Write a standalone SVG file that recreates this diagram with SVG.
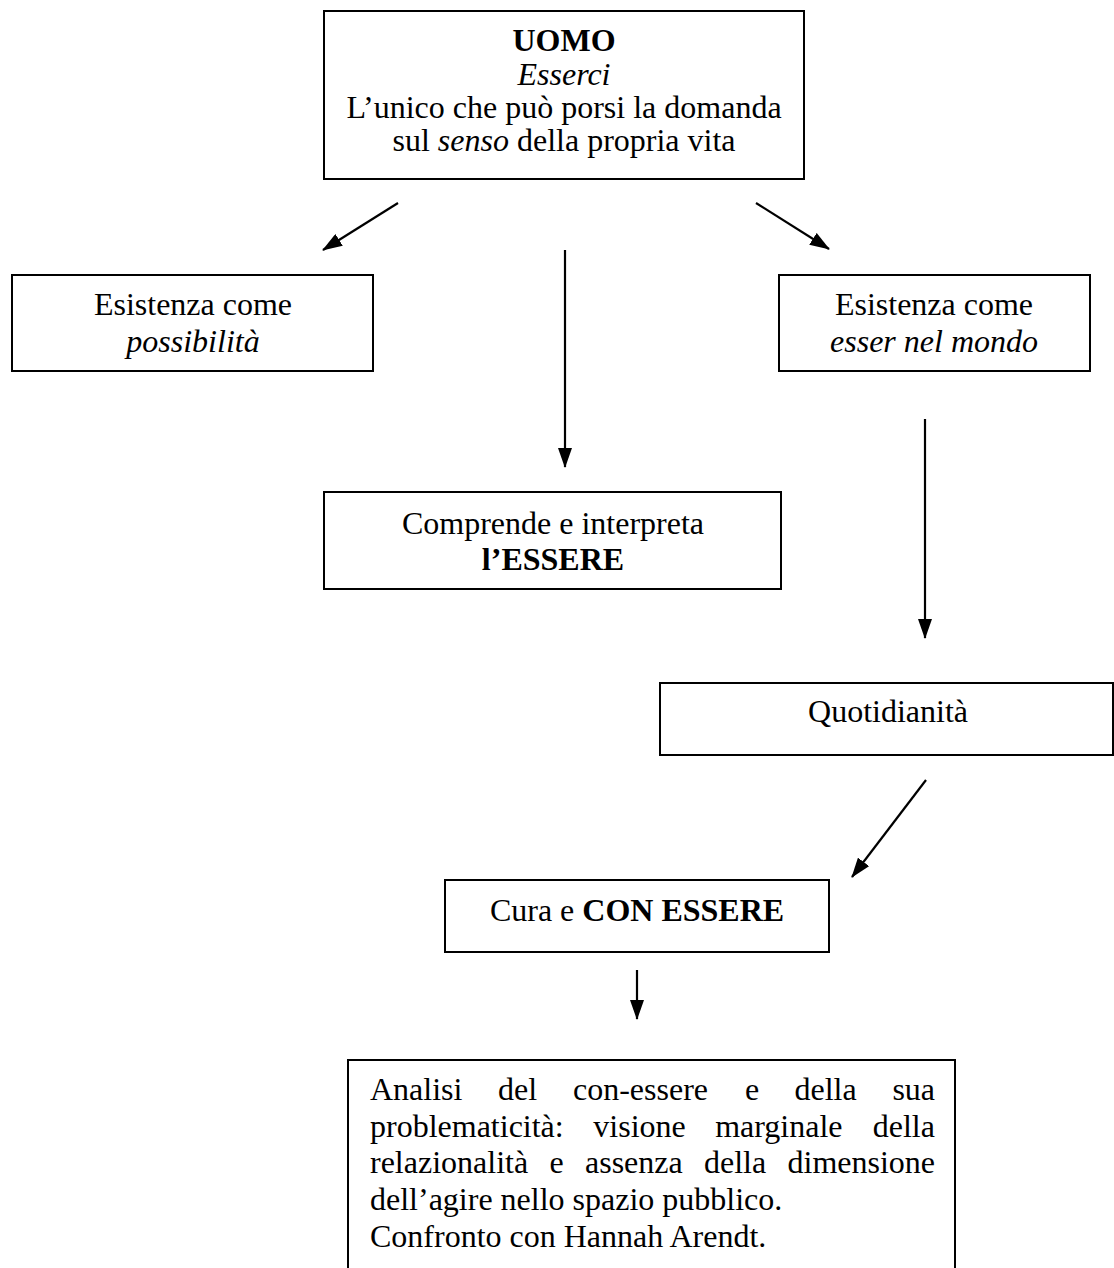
<svg xmlns="http://www.w3.org/2000/svg" width="1114" height="1268" viewBox="0 0 1114 1268">
<style>
  text { font-family: "Liberation Serif", "Times New Roman", serif; font-size: 32px; fill: #000; }
  .c { text-anchor: middle; }
  .b { font-weight: bold; }
  .i { font-style: italic; }
  .box { fill: #fff; stroke: #000; stroke-width: 2; }
  .conn line { stroke: #000; stroke-width: 2.2; marker-end: url(#arr); }
</style>
<defs>
  <marker id="arr" viewBox="0 0 20 14" refX="19" refY="7" markerWidth="20" markerHeight="14" markerUnits="userSpaceOnUse" orient="auto">
    <path d="M0,0 L20,7 L0,14 z" fill="#000"/>
  </marker>
</defs>
<rect width="1114" height="1268" fill="#fff"/>
<g id="uomo">
  <rect class="box" x="324" y="11" width="480" height="168"/>
  <text class="c b" x="564" y="51">UOMO</text>
  <text class="c i" x="564" y="85">Esserci</text>
  <text class="c" x="564" y="118">L’unico che può porsi la domanda</text>
  <text class="c" x="564" y="151">sul <tspan class="i">senso</tspan> della propria vita</text>
</g>
<g id="possibilita">
  <rect class="box" x="12" y="275" width="361" height="96"/>
  <text class="c" x="193" y="315">Esistenza come</text>
  <text class="c i" x="193" y="352">possibilità</text>
</g>
<g id="mondo">
  <rect class="box" x="779" y="275" width="311" height="96"/>
  <text class="c" x="934" y="315">Esistenza come</text>
  <text class="c i" x="934" y="352">esser nel mondo</text>
</g>
<g id="essere">
  <rect class="box" x="324" y="492" width="457" height="97"/>
  <text class="c" x="553" y="534">Comprende e interpreta</text>
  <text class="c b" x="553" y="570">l’ESSERE</text>
</g>
<g id="quotidianita">
  <rect class="box" x="660" y="683" width="453" height="72"/>
  <text class="c" x="888" y="722">Quotidianità</text>
</g>
<g id="cura">
  <rect class="box" x="445" y="880" width="384" height="72"/>
  <text class="c" x="637" y="921">Cura e <tspan class="b">CON ESSERE</tspan></text>
</g>
<g id="analisi">
  <rect class="box" x="348" y="1060" width="607" height="240"/>
  <text y="1100"><tspan x="370">Analisi</tspan><tspan x="498">del</tspan><tspan x="573">con-essere</tspan><tspan x="745">e</tspan><tspan x="794.5">della</tspan><tspan x="892.4">sua</tspan></text>
  <text y="1137"><tspan x="370">problematicità:</tspan><tspan x="593.3">visione</tspan><tspan x="715.2">marginale</tspan><tspan x="872.7">della</tspan></text>
  <text y="1173"><tspan x="370">relazionalità</tspan><tspan x="549.5">e</tspan><tspan x="585">assenza</tspan><tspan x="704">della</tspan><tspan x="787.5">dimensione</tspan></text>
  <text x="370" y="1210">dell’agire nello spazio pubblico.</text>
  <text x="370" y="1247">Confronto con Hannah Arendt.</text>
</g>
<g id="connectors" class="conn">
  <line x1="398" y1="203" x2="323" y2="250"/>
  <line x1="565" y1="250" x2="565" y2="467"/>
  <line x1="756" y1="203" x2="829" y2="249"/>
  <line x1="925" y1="419" x2="925" y2="638"/>
  <line x1="926" y1="780" x2="852" y2="877"/>
  <line x1="637" y1="970" x2="637" y2="1019"/>
</g>
</svg>
